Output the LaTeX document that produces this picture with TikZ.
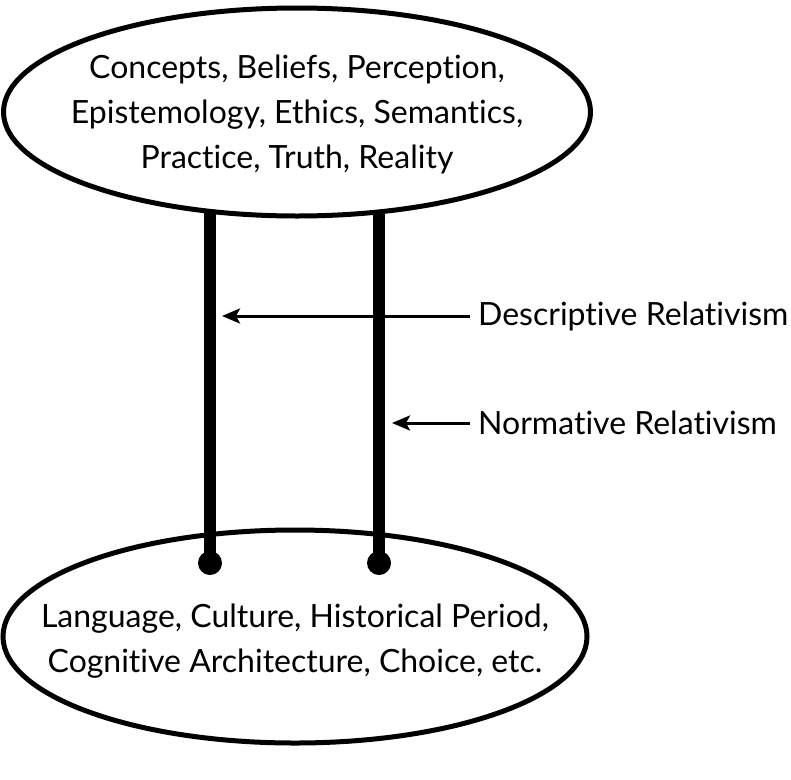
\documentclass[tikz,border=0pt]{standalone}
\usepackage{fontspec}
\setmainfont[Ligatures={NoCommon}]{Lato}
\usetikzlibrary{arrows.meta,backgrounds}
\begin{document}
\begin{tikzpicture}[x=1pt,y=-1pt,
  txt/.style={inner sep=0pt, align=center, font=\fontsize{32}{45}\selectfont},
  ring/.style={line width=5pt},
  pillar/.style={line width=12pt},
  dot/.style={circle, fill, inner sep=0pt, minimum size=24pt},
  lab/.style={anchor=west, inner sep=0pt, font=\fontsize{32}{40}\selectfont},
  arr/.style={line width=3pt, -{Stealth[length=18pt,width=15pt,inset=4pt]}}]
\useasboundingbox (0,0) rectangle (791,779);
\coordinate (tc) at (297,112);
\coordinate (bc) at (295,636.5);
\node[txt] (top) at (297,114)
  {Concepts, Beliefs, Perception,\\Epistemology, Ethics, Semantics,\\Practice, Truth, Reality};
\node[txt] (bot) at (295,641)
  {Language, Culture, Historical Period,\\Cognitive Architecture, Choice, etc.};
\node[dot] (d1) at (210,563) {};
\node[dot] (d2) at (379,563) {};
\begin{pgfonlayer}{background}
\draw[pillar] (d1 |- tc) -- (d1.center);
\draw[pillar] (d2 |- tc) -- (d2.center);
\filldraw[ring, fill=white] (tc) ellipse [x radius=293.5, y radius=104];
\draw[ring] (bc) ellipse [x radius=292, y radius=106.5];
\end{pgfonlayer}
\node[lab] (desc) at (478,316) {Descriptive Relativism};
\node[lab] (norm) at (478,423) {Normative Relativism};
\draw[arr] ([xshift=-8pt]desc.west) -- ([xshift=12pt]d1 |- desc.west);
\draw[arr] ([xshift=-8pt]norm.west) -- ([xshift=13pt]d2 |- norm.west);
\end{tikzpicture}
\end{document}
